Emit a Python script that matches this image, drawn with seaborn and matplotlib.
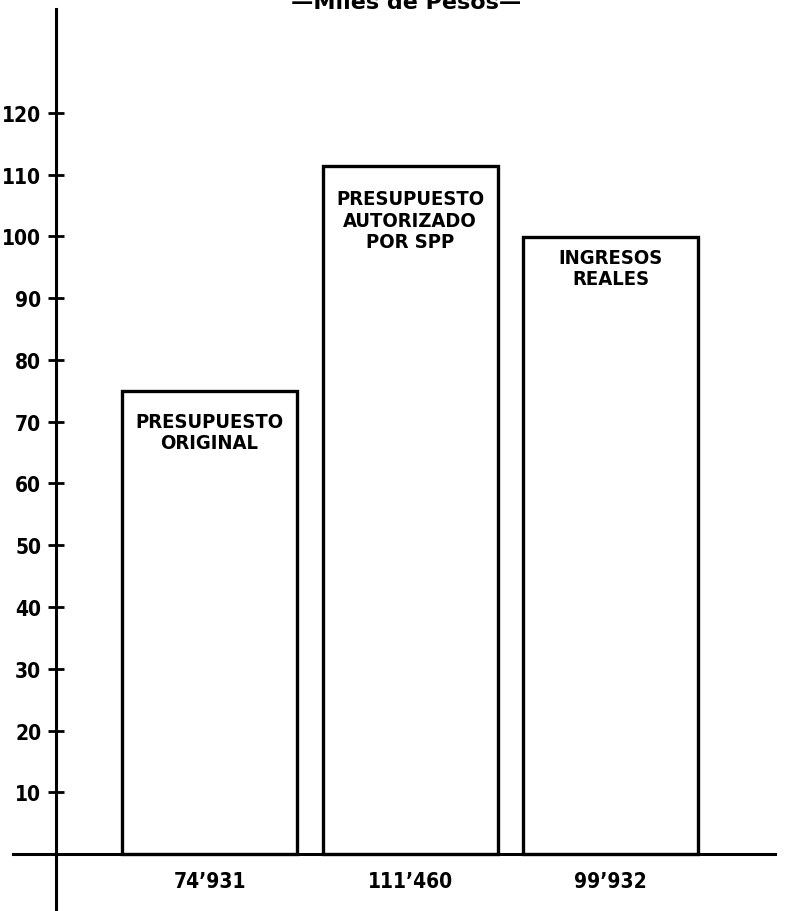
import matplotlib
matplotlib.use("Agg")
import matplotlib.pyplot as plt
import seaborn as sns
import pandas as pd
from matplotlib import font_manager

# ---- data ----
categories = ["74’931", "111’460", "99’932"]
values = [74.931, 111.460, 99.932]
bar_texts = ["PRESUPUESTO\nORIGINAL", "PRESUPUESTO\nAUTORIZADO\nPOR SPP", "INGRESOS\nREALES"]
yticks = [10, 20, 30, 40, 50, 60, 70, 80, 90, 100, 110, 120]
title = "—Miles de Pesos—"

sns.set_theme(style="white")
plt.rcParams["font.family"] = ["DejaVu Sans"]

cond = font_manager.FontProperties(family="DejaVu Sans", stretch="condensed",
                                   weight="bold", size=15)

fig = plt.figure(figsize=(7.93, 9.12), dpi=100)
ax = fig.add_axes([0, 0, 1, 1])
df = pd.DataFrame({"cat": categories, "val": values})
sns.barplot(data=df, x="cat", y="val", ax=ax, color="white", edgecolor="black",
            linewidth=2.4, width=0.873, saturation=1)

ax.set_xlim(-1.045, 2.91)
ax.set_ylim(-9.23, 138.46)

for s in ["top", "right"]:
    ax.spines[s].set_visible(False)
ax.spines["left"].set_position(("data", -0.766))
ax.spines["bottom"].set_position(("data", 0))
ax.spines["left"].set_bounds(-9.3, 136.9)
ax.spines["bottom"].set_bounds(-0.98, 2.82)
for s in ["left", "bottom"]:
    ax.spines[s].set_linewidth(2.2)
    ax.spines[s].set_color("black")

ax.set_yticks(yticks)
ax.set_yticklabels([str(t) for t in yticks])
ax.tick_params(axis="y", direction="inout", length=11, width=2.0, color="black",
               pad=5, left=True, labelcolor="black")
ax.tick_params(axis="x", length=0, pad=12, labelcolor="black")
for lab in ax.get_yticklabels() + ax.get_xticklabels():
    lab.set_fontproperties(cond)
ax.set_xlabel("")
ax.set_ylabel("")

offsets = [-15, -17, -8]
for i, (v, t) in enumerate(zip(values, bar_texts)):
    ax.annotate(t, xy=(i, v), xytext=(0, offsets[i]), textcoords="offset points",
                ha="center", va="top", fontproperties=cond, fontsize=14.5,
                linespacing=1.15, color="black")

ax.text(0.98, 137.0, title, ha="center", va="baseline", fontsize=16,
        fontweight="bold", color="black", clip_on=False)

fig.savefig("out.png", dpi=100, facecolor="white")
